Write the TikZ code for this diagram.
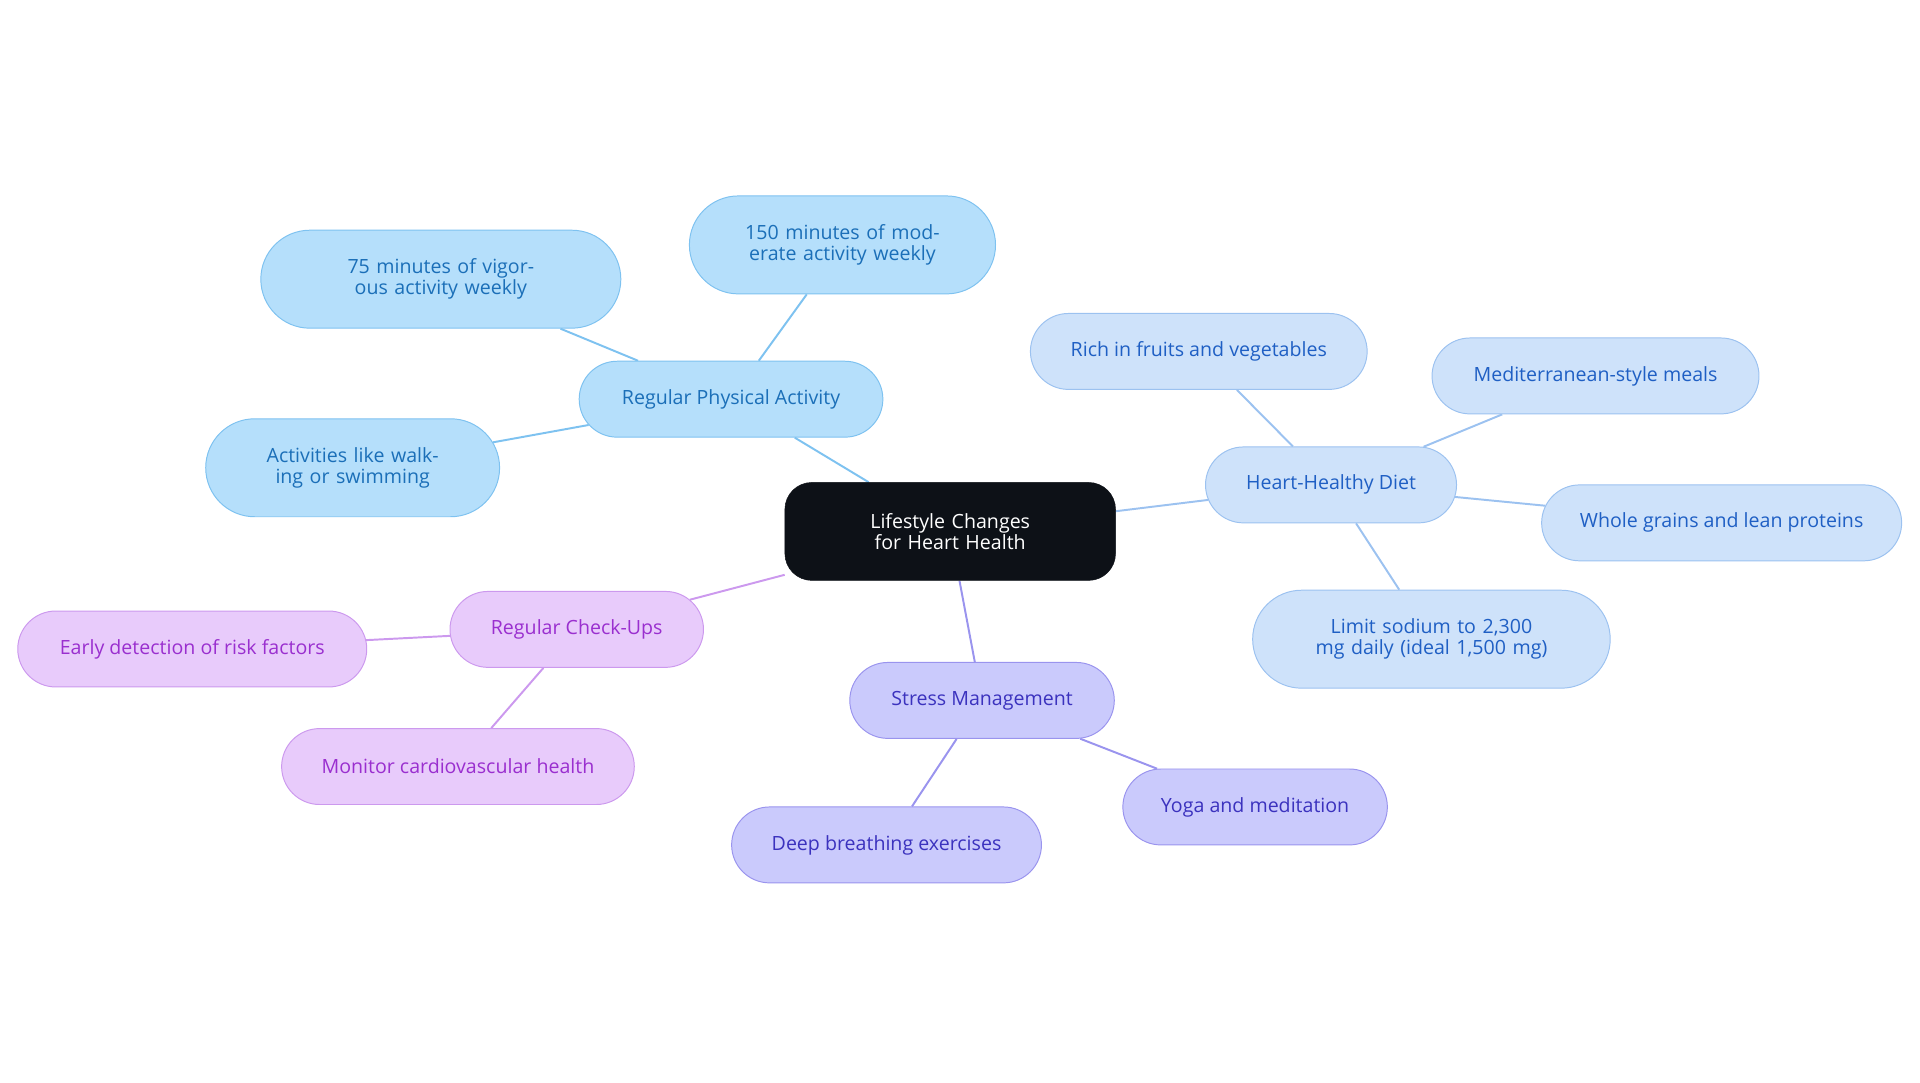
\documentclass[tikz,border=0pt]{standalone}
\usepackage{fontspec}
\setmainfont{Open Sans}
\usetikzlibrary{shapes.misc}
\pgfdeclarelayer{edgelayer}
\pgfdeclarelayer{nodelayer}
\pgfsetlayers{edgelayer,nodelayer,main}
\definecolor{rootfill}{HTML}{0D1117}
\definecolor{actfill}{HTML}{B5DFFB}
\definecolor{actline}{HTML}{7EC2F0}
\definecolor{acttext}{HTML}{1B6FB8}
\definecolor{dietfill}{HTML}{CEE2FA}
\definecolor{dietline}{HTML}{9CC2F0}
\definecolor{diettext}{HTML}{1F5FC4}
\definecolor{stressfill}{HTML}{CACAFC}
\definecolor{stressline}{HTML}{9A94EE}
\definecolor{stresstext}{HTML}{3B32BE}
\definecolor{checkfill}{HTML}{E8CBFB}
\definecolor{checkline}{HTML}{CC99EE}
\definecolor{checktext}{HTML}{9A2FCF}
\tikzstyle{topic}=[rounded rectangle,draw,line width=0.8pt,align=center,inner sep=0pt,font=\fontsize{16}{17}\selectfont]
\tikzstyle{root_topic}=[rounded corners=22pt,fill=rootfill,draw=rootfill,text=white,align=center,minimum width=270pt,minimum height=80pt,text width=230pt,font=\fontsize{16}{17}\selectfont]
\tikzstyle{act}=[topic,fill=actfill,draw=actline,text=acttext]
\tikzstyle{diet}=[topic,fill=dietfill,draw=dietline,text=diettext]
\tikzstyle{stress}=[topic,fill=stressfill,draw=stressline,text=stresstext]
\tikzstyle{check}=[topic,fill=checkfill,draw=checkline,text=checktext]
\tikzstyle{act_edge}=[draw=actline,line width=1.6pt]
\tikzstyle{diet_edge}=[draw=dietline,line width=1.6pt]
\tikzstyle{stress_edge}=[draw=stressline,line width=1.6pt]
\tikzstyle{check_edge}=[draw=checkline,line width=1.6pt]

\begin{document}
\begin{tikzpicture}[x=1pt,y=-1pt]
	\useasboundingbox (0,0) rectangle (1568,884);
	\begin{pgfonlayer}{nodelayer}
		\node [style={root_topic}] (root) at (776,434) {Lifestyle Changes for Heart Health};
		\node [style=act, minimum width=248pt, minimum height=62pt] (act) at (597,326) {Regular Physical Activity};
		\node [style=act, minimum width=294pt, minimum height=80pt, text width=250pt] (act1) at (360,228) {75 minutes of vigorous activity weekly};
		\node [style=act, minimum width=250pt, minimum height=80pt, text width=210pt] (act2) at (688,200) {150 minutes of moderate activity weekly};
		\node [style=act, minimum width=240pt, minimum height=80pt, text width=200pt] (act3) at (288,382) {Activities like walking or swimming};
		\node [style=diet, minimum width=205pt, minimum height=62pt] (diet) at (1087,396) {Heart-Healthy Diet};
		\node [style=diet, minimum width=275pt, minimum height=62pt] (diet1) at (979,287) {Rich in fruits and vegetables};
		\node [style=diet, minimum width=267pt, minimum height=62pt] (diet2) at (1303,307) {Mediterranean-style meals};
		\node [style=diet, minimum width=294pt, minimum height=62pt] (diet3) at (1406,427) {Whole grains and lean proteins};
		\node [style=diet, minimum width=292pt, minimum height=80pt, text width=250pt] (diet4) at (1169,522) {Limit sodium to 2,300 mg daily (ideal 1,500 mg)};
		\node [style=stress, minimum width=216pt, minimum height=62pt] (stress) at (802,572) {Stress Management};
		\node [style=stress, minimum width=216pt, minimum height=62pt] (stress1) at (1025,659) {Yoga and meditation};
		\node [style=stress, minimum width=253pt, minimum height=62pt] (stress2) at (724,690) {Deep breathing exercises};
		\node [style=check, minimum width=207pt, minimum height=62pt] (check) at (471,514) {Regular Check-Ups};
		\node [style=check, minimum width=285pt, minimum height=62pt] (check1) at (157,530) {Early detection of risk factors};
		\node [style=check, minimum width=288pt, minimum height=62pt] (check2) at (374,626) {Monitor cardiovascular health};
	\end{pgfonlayer}
	\begin{pgfonlayer}{edgelayer}
		\draw [style=act_edge] (root) to (act);
		\draw [style=act_edge] (act) to (act1);
		\draw [style=act_edge] (act) to (act2);
		\draw [style=act_edge] (act) to (act3);
		\draw [style=diet_edge] (root) to (diet);
		\draw [style=diet_edge] (diet) to (diet1);
		\draw [style=diet_edge] (diet) to (diet2);
		\draw [style=diet_edge] (diet) to (diet3);
		\draw [style=diet_edge] (diet) to (diet4);
		\draw [style=stress_edge] (root) to (stress);
		\draw [style=stress_edge] (stress) to (stress1);
		\draw [style=stress_edge] (stress) to (stress2);
		\draw [style=check_edge] (root) to (check);
		\draw [style=check_edge] (check) to (check1);
		\draw [style=check_edge] (check) to (check2);
	\end{pgfonlayer}
\end{tikzpicture}
\end{document}
